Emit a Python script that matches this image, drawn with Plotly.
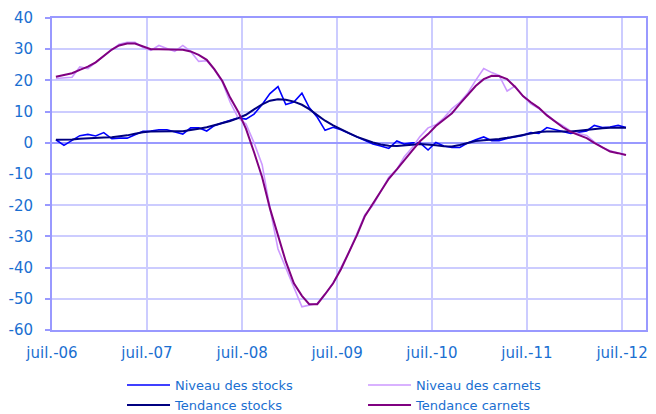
import pandas as pd
import plotly.graph_objects as go

start_month = "2006-07-01"
n_months = 73

niveau_stocks = [1.0, -0.8, 0.8, 2.3, 2.7, 2.2, 3.3, 1.3, 1.5, 1.5,
                 2.6, 3.7, 3.8, 4.2, 4.2, 3.6, 2.8, 4.8, 4.8, 3.8,
                 5.5, 6.4, 7.2, 8.0, 7.6, 9.2, 12.3, 15.8, 18.0, 12.3,
                 13.1, 15.9, 11.3, 8.2, 4.0, 5.0, 4.2, 3.0, 1.7, 0.6,
                 -0.4, -1.0, -1.8, 0.6, -0.4, 0.0, 0.0, -2.3, 0.1, -1.0,
                 -1.5, -1.5, 0.0, 1.0, 1.9, 0.7, 0.7, 1.4, 1.9, 2.4,
                 3.3, 3.0, 4.9, 4.2, 3.5, 3.0, 3.4, 3.8, 5.6, 4.9,
                 5.1, 5.6, 4.9]

tendance_stocks = [1.0, 1.0, 1.1, 1.3, 1.5, 1.6, 1.7, 1.8, 2.0, 2.4,
                   2.9, 3.4, 3.6, 3.7, 3.7, 3.7, 3.7, 4.0, 4.5, 5.0,
                   5.6, 6.3, 7.0, 7.9, 9.0, 10.7, 12.3, 13.5, 14.0, 13.8,
                   13.2, 12.2, 10.8, 8.9, 7.1, 5.6, 4.3, 3.1, 1.9, 0.9,
                   0.1, -0.5, -0.9, -1.0, -0.9, -0.6, -0.4, -0.5, -0.8, -1.1,
                   -1.2, -0.7, 0.0, 0.6, 0.8, 0.9, 1.2, 1.6, 2.1, 2.7,
                   3.2, 3.5, 3.6, 3.6, 3.6, 3.6, 3.9, 4.2, 4.5, 4.7,
                   4.8, 4.8, 4.8]

niveau_carnets = [20.6, 20.8, 21.0, 24.3, 23.8, 25.8, 27.8, 30.0, 31.6, 32.2,
                  32.2, 30.5, 29.6, 31.2, 30.2, 29.3, 31.2, 29.3, 26.1, 26.3,
                  23.5, 19.5, 13.0, 8.0, 6.0, 0.0, -7.0, -21.0, -34.0, -40.0,
                  -46.5, -52.5, -52.0, -51.5, -48.5, -45.0, -40.0, -35.0, -29.0, -23.0,
                  -20.0, -15.5, -11.0, -8.5, -4.5, -1.5, 2.0, 4.8, 5.8, 8.0,
                  11.0, 13.0, 16.0, 20.0, 23.8, 22.5, 21.6, 16.6, 18.2, 15.0,
                  12.5, 11.0, 9.0, 7.0, 5.5, 3.8, 3.0, 2.4, 0.3, -1.5,
                  -2.5, -3.2, -3.9]

tendance_carnets = [21.2, 21.8, 22.3, 23.4, 24.4, 25.8, 27.8, 29.9, 31.2, 31.8,
                    31.8, 31.0, 30.0, 30.0, 30.0, 30.0, 29.8, 29.3, 28.2, 26.6,
                    23.6, 19.8, 14.5, 10.0, 4.5, -3.0, -11.0, -21.0, -29.5, -38.0,
                    -45.0, -49.0, -51.7, -51.7, -48.5, -45.0, -40.5, -35.0, -29.5, -23.5,
                    -19.5, -15.5, -11.5, -8.5, -5.5, -2.5, 0.5, 2.8, 5.4, 7.5,
                    9.5, 12.5, 15.5, 18.2, 20.4, 21.5, 21.4, 20.4, 18.0, 15.0,
                    13.0, 11.2, 8.8, 6.8, 5.0, 3.5, 2.5, 1.5, 0.0, -1.5,
                    -2.8, -3.3, -3.9]

tick_dates = ["2006-07-01", "2007-07-01", "2008-07-01", "2009-07-01",
              "2010-07-01", "2011-07-01", "2012-07-01"]
tick_labels = ["juil.-06", "juil.-07", "juil.-08", "juil.-09",
               "juil.-10", "juil.-11", "juil.-12"]
y_ticks = [-60, -50, -40, -30, -20, -10, 0, 10, 20, 30, 40]
y_labels = [str(v) for v in y_ticks]  # plain hyphen minus, as in the source

# points sit in the middle of each month (Excel date axis, between tick marks)
months = pd.date_range(start_month, periods=n_months, freq="MS") + pd.Timedelta(days=15)

series = [
    ("Niveau des stocks", niveau_stocks, "#0000FF", 1.6),
    ("Niveau des carnets", niveau_carnets, "#CC99FF", 1.6),
    ("Tendance stocks", tendance_stocks, "#000080", 2.0),
    ("Tendance carnets", tendance_carnets, "#800080", 2.0),
]

fig = go.Figure()
for name, vals, col, w in series:
    fig.add_trace(go.Scatter(x=months, y=vals, mode="lines", name=name,
                             line=dict(color=col, width=w)))

tick_color = "#1A6FD1"
frame = "#9999FF"
grid = "#CCCCFF"

fig.update_layout(
    width=656, height=414,
    margin=dict(l=49, r=8, t=18, b=80),
    paper_bgcolor="white", plot_bgcolor="white",
    font=dict(family="DejaVu Sans", size=15, color=tick_color),
    showlegend=True,
    legend=dict(orientation="h", xref="container", yref="container",
                x=0.186, xanchor="left", y=0.106, yanchor="top",
                entrywidth=183, entrywidthmode="pixels", itemwidth=43,
                font=dict(family="DejaVu Sans", size=13, color=tick_color),
                bgcolor="rgba(0,0,0,0)", tracegroupgap=0),
    xaxis=dict(type="date", range=["2006-07-01", "2012-10-01"],
               tickvals=tick_dates, ticktext=tick_labels,
               showgrid=True, gridcolor=grid, gridwidth=1.5,
               showline=True, linecolor=frame, linewidth=2, mirror=True,
               ticks="", zeroline=False, ticklabelstandoff=8,
               tickfont=dict(family="DejaVu Sans", size=15, color=tick_color)),
    yaxis=dict(range=[-60, 40], tickvals=y_ticks, ticktext=y_labels,
               showgrid=True, gridcolor=grid, gridwidth=1.5,
               showline=True, linecolor=frame, linewidth=2, mirror=True,
               ticks="outside", ticklen=5, tickcolor=frame, tickwidth=1.5,
               zeroline=True, zerolinecolor=frame, zerolinewidth=2,
               ticklabelstandoff=9,
               tickfont=dict(family="DejaVu Sans", size=15, color=tick_color)),
)

# remove the browser's default 8px page margin so the figure fills the window
fig.write_html("out.html", config={"displayModeBar": False},
               post_script="document.body.style.margin='0';")
